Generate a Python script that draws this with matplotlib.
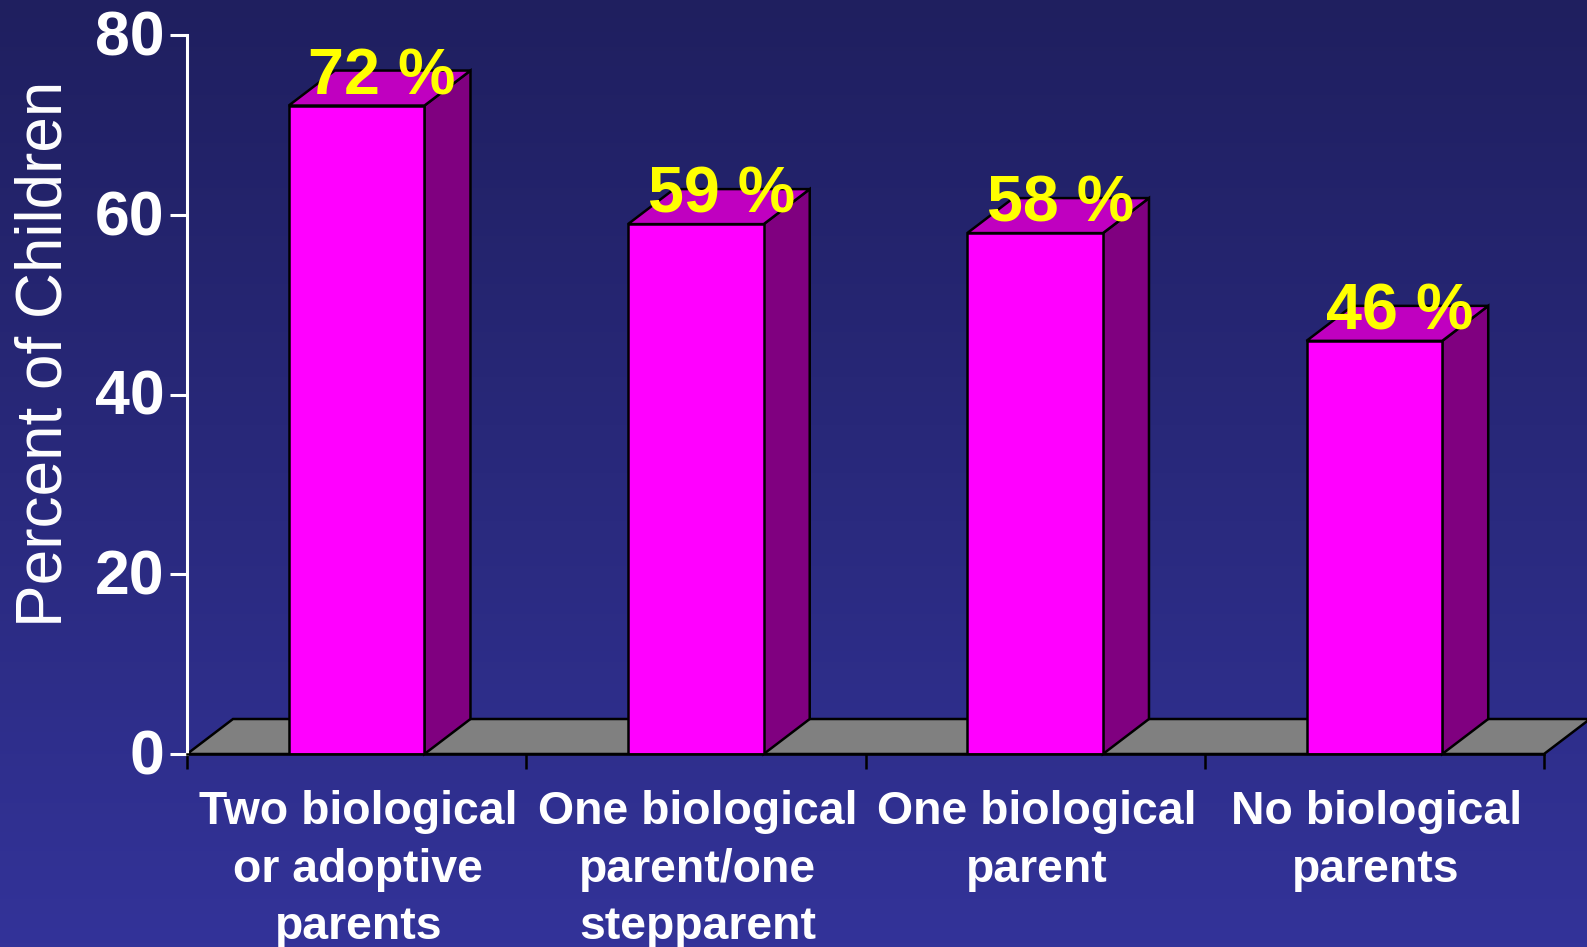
import numpy as np
import matplotlib
matplotlib.use("Agg")
import matplotlib.pyplot as plt
from matplotlib.patches import Polygon
from matplotlib.transforms import ScaledTranslation

plt.rcParams["font.family"] = ["Liberation Sans", "DejaVu Sans"]

categories = ["Two biological\nor adoptive\nparents", "One biological\nparent/one\nstepparent",
              "One biological\nparent", "No biological\nparents"]
values = [72.2, 59, 58, 46]
labels = ["72 %", "59 %", "58 %", "46 %"]
yticks = [0, 20, 40, 60, 80]

W, H = 1587, 947
fig = plt.figure(figsize=(W / 100, H / 100), dpi=100)

# background gradient
bg = fig.add_axes([0, 0, 1, 1], zorder=0)
bg.axis("off")
top = np.array([31, 31, 95]) / 255
bot = np.array([51, 51, 153]) / 255
t = np.linspace(0, 1, 256)[:, None, None]
bg.imshow(top + (bot - top) * t, aspect="auto", extent=[0, 1, 0, 1])

x0, x1, y_top, y_base = 187, 1544, 35.5, 754
ax = fig.add_axes([x0 / W, 1 - y_base / H, (x1 - x0) / W, (y_base - y_top) / H], zorder=1)
ax.patch.set_alpha(0)
ax.set_xlim(0, 4)
ax.set_ylim(0, 80)

# depth of the 3d look, in data units
dx = 46 / ((x1 - x0) / 4)
dy = 35 / ((y_base - y_top) / 80)

ax.add_patch(Polygon([(0, 0), (4, 0), (4 + dx, dy), (dx, dy)], closed=True, fc="#808080", ec="black",
                     lw=1.8, clip_on=False, zorder=1))

w = 0.4
for i, v in enumerate(values):
    c = i + 0.5
    l, r = c - w / 2, c + w / 2
    ax.bar(c, v, width=w, color="#ff00ff", edgecolor="black", linewidth=1.8, zorder=3)
    ax.add_patch(Polygon([(r, 0), (r + dx, dy), (r + dx, v + dy), (r, v)], closed=True, fc="#800080",
                         ec="black", lw=1.8, clip_on=False, zorder=2))
    ax.add_patch(Polygon([(l, v), (r, v), (r + dx, v + dy), (l + dx, v + dy)], closed=True, fc="#c000c0",
                         ec="black", lw=1.8, clip_on=False, zorder=2))
    ax.text(c + 0.075, v - 0.2, labels[i], color="yellow", fontsize=46.5, fontweight="bold", ha="center",
            va="bottom", zorder=5)

for s in ["top", "right"]:
    ax.spines[s].set_visible(False)
ax.spines["left"].set_color("white")
ax.spines["left"].set_linewidth(2.2)
ax.spines["bottom"].set_color("black")
ax.spines["bottom"].set_linewidth(1.8)
ax.spines["bottom"].set_zorder(4)

ax.set_yticks(yticks)
ax.tick_params(axis="y", colors="white", length=12, width=2.2, labelsize=45, pad=4)
up = ScaledTranslation(0, 2 / 72, fig.dpi_scale_trans)
for lab in ax.get_yticklabels():
    lab.set_fontweight("bold")
    lab.set_transform(lab.get_transform() + up)

ax.set_xticks(range(5))
ax.set_xticklabels([])
ax.tick_params(axis="x", color="black", length=10.5, width=1.8)
for i, c in enumerate(categories):
    ax.text(i + 0.505, -4.05, c, color="white", fontsize=33.4, fontweight="bold", ha="center", va="top",
            linespacing=1.39, clip_on=False)

fig.text(45 / W, 1 - 354 / H, "Percent of Children", color="white", fontsize=46, rotation=90,
         ha="center", va="center", zorder=3)

fig.savefig("out.png", dpi=100)
